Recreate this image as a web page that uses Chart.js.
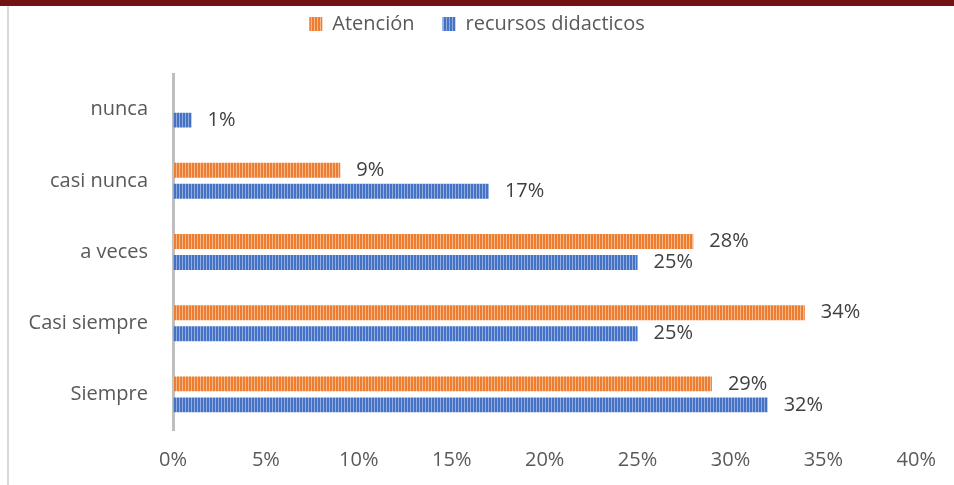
<!DOCTYPE html>
<html>
<head>
<meta charset="utf-8">
<script src="https://cdn.jsdelivr.net/npm/chart.js@4.4.1/dist/chart.umd.min.js"></script>
<style>
  html, body { margin: 0; padding: 0; background: #fff; }
  #wrap { width: 954px; height: 485px; }
</style>
</head>
<body>
<div id="wrap"><canvas id="chart" width="954" height="485"></canvas></div>
<script>
const categories = ['nunca', 'casi nunca', 'a veces', 'Casi siempre', 'Siempre']
const atencion = [null, 9, 28, 34, 29]
const recursos = [1, 17, 25, 25, 32]
const seriesNames = ['Atención', 'recursos didacticos']
const xMax = 40
const xStep = 5

const FONT = '"Open Sans", "Liberation Sans", sans-serif'

// vertical striped fill like the excel pattern
function stripes(base, light) {
  const c = document.createElement('canvas')
  c.width = 3; c.height = 1
  const cx = c.getContext('2d')
  cx.fillStyle = base; cx.fillRect(0, 0, 3, 1)
  cx.fillStyle = light; cx.fillRect(2, 0, 1, 1)
  return cx.createPattern(c, 'repeat')
}

const frame = {
  id: 'frame',
  beforeDraw(chart) {
    const ctx = chart.ctx
    ctx.save()
    ctx.fillStyle = '#fff'
    ctx.fillRect(0, 0, chart.width, chart.height)
    ctx.fillStyle = '#741111'
    ctx.fillRect(0, 0, chart.width, 6)
    ctx.fillStyle = '#d9d9d9'
    ctx.fillRect(7, 6, 2, chart.height - 6)
    ctx.restore()
  }
}

// extra room under the legend, and center it on the whole canvas
const legendGap = {
  id: 'legendGap',
  beforeInit(chart) {
    const fit = chart.legend.fit
    chart.legend.fit = function () { fit.bind(chart.legend)(); this.height += 30 }
  },
  afterLayout(chart) {
    chart.legend.left = 0
    chart.legend.right = chart.width
    chart.legend.width = chart.width
  }
}

const barLabels = {
  id: 'barLabels',
  afterDatasetsDraw(chart) {
    const ctx = chart.ctx
    ctx.save()
    ctx.font = '20px ' + FONT
    ctx.fillStyle = '#404040'
    ctx.textBaseline = 'middle'
    chart.data.datasets.forEach((ds, i) => {
      chart.getDatasetMeta(i).data.forEach((bar, j) => {
        const v = ds.data[j]
        if (v == null) return
        ctx.fillText(v + '%', bar.x + 16, bar.y)
      })
    })
    ctx.restore()
  }
}

new Chart(document.getElementById('chart'), {
  type: 'bar',
  data: {
    labels: categories,
    datasets: [
      { label: seriesNames[0], data: atencion, backgroundColor: stripes('#ED7D31', '#F6B88A'), borderWidth: 0, barPercentage: 0.71, categoryPercentage: 0.59 },
      { label: seriesNames[1], data: recursos, backgroundColor: stripes('#4472C4', '#93ACDD'), borderWidth: 0, barPercentage: 0.71, categoryPercentage: 0.59 }
    ]
  },
  options: {
    indexAxis: 'y',
    responsive: false,
    animation: false,
    layout: { padding: { top: -14, right: 37, bottom: -5, left: 0 } },
    plugins: {
      legend: {
        position: 'top',
        labels: { boxWidth: 13, boxHeight: 14, padding: 28, color: '#595959', font: { size: 20, family: FONT } }
      },
      tooltip: { enabled: false }
    },
    scales: {
      x: {
        min: 0, max: xMax,
        grid: { display: false, drawTicks: false },
        border: { display: false },
        ticks: { stepSize: xStep, padding: 18, color: '#595959', font: { size: 20, family: FONT }, callback: v => v + '%' }
      },
      y: {
        grid: { display: false, drawTicks: false },
        border: { display: true, color: '#bfbfbf', width: 3 },
        ticks: { padding: 25, color: '#595959', font: { size: 20, family: FONT } },
        afterFit: s => { s.width = 173 }
      }
    }
  },
  plugins: [frame, legendGap, barLabels]
})
</script>
</body>
</html>
